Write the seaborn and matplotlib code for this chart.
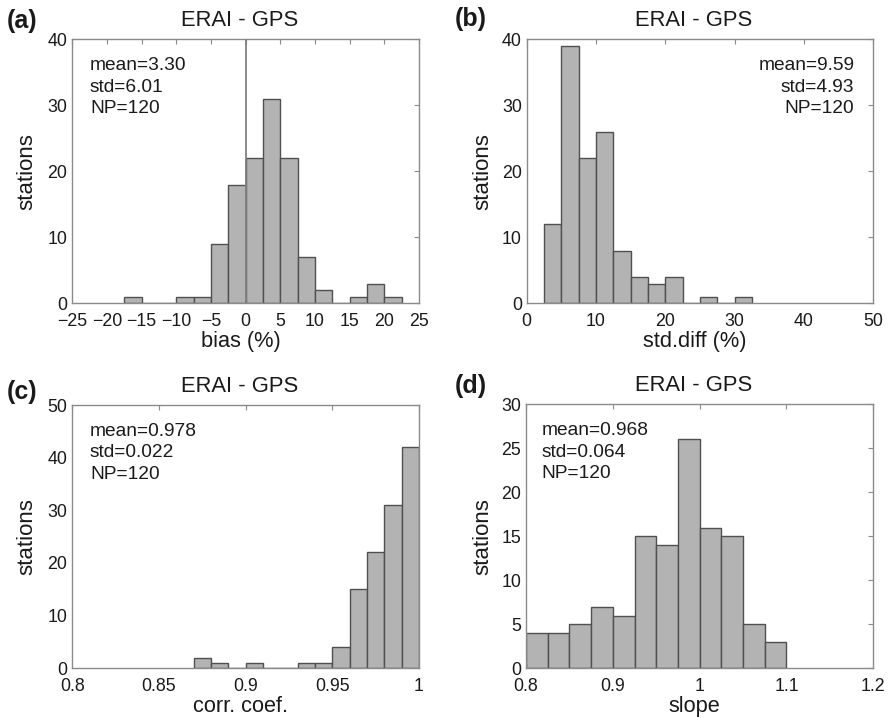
import numpy as np
import pandas as pd
import matplotlib
matplotlib.use("Agg")
import matplotlib.pyplot as plt
from matplotlib.ticker import FuncFormatter
import seaborn as sns

# ---- histogram data (left bin edge, station count) ----
bias_left = [-17.5, -10, -7.5, -5, -2.5, 0, 2.5, 5, 7.5, 10, 15, 17.5, 20]
bias_count = [1, 1, 1, 9, 18, 22, 31, 22, 7, 2, 1, 3, 1]
bias_width = 2.5

stdd_left = [2.5, 5, 7.5, 10, 12.5, 15, 17.5, 20, 25, 30]
stdd_count = [12, 39, 22, 26, 8, 4, 3, 4, 1, 1]
stdd_width = 2.5

corr_left = [0.87, 0.88, 0.90, 0.93, 0.94, 0.95, 0.96, 0.97, 0.98, 0.99]
corr_count = [2, 1, 1, 1, 1, 4, 15, 22, 31, 42]
corr_width = 0.01

slope_left = [0.8, 0.825, 0.85, 0.875, 0.9, 0.925, 0.95, 0.975, 1.0, 1.025, 1.05, 1.075]
slope_count = [4, 4, 5, 7, 6, 15, 14, 26, 16, 15, 5, 3]
slope_width = 0.025

stats_text = {
    "a": ["mean=3.30", "std=6.01", "NP=120"],
    "b": ["mean=9.59", "std=4.93", "NP=120"],
    "c": ["mean=0.978", "std=0.022", "NP=120"],
    "d": ["mean=0.968", "std=0.064", "NP=120"],
}
title = "ERAI - GPS"

sns.set_style("white")
plt.rcParams["font.family"] = ["Liberation Sans", "DejaVu Sans"]
plt.rcParams["axes.unicode_minus"] = True

FACE = "#b3b3b3"
EDGE = "#505050"
FRAME = "#8a8a8a"
TXT = "#1a1a1a"

W, H = 889, 718
fig = plt.figure(figsize=(W / 100, H / 100), dpi=100)


def px_axes(left, top, right, bottom):
    return fig.add_axes([left / W, 1 - bottom / H, (right - left) / W, (bottom - top) / H])


# box = (left, top, right, bottom) in pixels; ylab_x = right edge of "stations";
# tag_x / tag_dy = panel tag left edge and its height above the frame; stats_x = stats anchor
panels = [
    dict(key="a", box=(72.3, 39.3, 419.0, 303.3), ylab_x=37, tag_x=6.5, tag_dy=18.5, stats_x=90,
         left=bias_left, count=bias_count, w=bias_width,
         xlim=(-25, 25), xticks=list(range(-25, 26, 5)), ylim=(0, 40), yticks=[0, 10, 20, 30, 40],
         xlabel="bias (%)", stats_ha="left"),
    dict(key="b", box=(526.7, 39.3, 873.3, 303.3), ylab_x=493, tag_x=455, tag_dy=20, stats_x=854.3,
         left=stdd_left, count=stdd_count, w=stdd_width,
         xlim=(0, 50), xticks=[0, 10, 20, 30, 40, 50], ylim=(0, 40), yticks=[0, 10, 20, 30, 40],
         xlabel="std.diff (%)", stats_ha="right"),
    dict(key="c", box=(72.3, 405.0, 419.0, 668.3), ylab_x=37, tag_x=6.5, tag_dy=12.5, stats_x=90,
         left=corr_left, count=corr_count, w=corr_width,
         xlim=(0.8, 1.0), xticks=[0.8, 0.85, 0.9, 0.95, 1.0], ylim=(0, 50), yticks=[0, 10, 20, 30, 40, 50],
         xlabel="corr. coef.", stats_ha="left"),
    dict(key="d", box=(526.0, 404.3, 873.3, 668.3), ylab_x=493, tag_x=455, tag_dy=18.5, stats_x=541.7,
         left=slope_left, count=slope_count, w=slope_width,
         xlim=(0.8, 1.2), xticks=[0.8, 0.9, 1.0, 1.1, 1.2], ylim=(0, 30), yticks=[0, 5, 10, 15, 20, 25, 30],
         xlabel="slope", stats_ha="left"),
]

fmt = FuncFormatter(lambda v, p: f"{v:g}".replace("-", "\u2212"))

for p in panels:
    l, t, r, b = p["box"]
    axw, axh = r - l, b - t
    ax = px_axes(l, t, r, b)
    w = p["w"]
    df = pd.DataFrame({"value": np.array(p["left"]) + w / 2, "count": p["count"]})
    lo, hi = min(p["left"]), max(p["left"]) + w
    edges = [float(e) for e in np.linspace(lo, hi, int(round((hi - lo) / w)) + 1)]
    sns.histplot(data=df, x="value", weights="count", bins=edges, ax=ax,
                 color=FACE, edgecolor=EDGE, linewidth=1.0, alpha=1.0)
    if p["key"] == "a":
        ax.axvline(0, color="#808080", lw=1.3, zorder=3)

    ax.set_xlim(*p["xlim"])
    ax.set_ylim(*p["ylim"])
    ax.set_xticks(p["xticks"])
    ax.set_yticks(p["yticks"])
    ax.xaxis.set_major_formatter(fmt)
    ax.yaxis.set_major_formatter(fmt)
    ax.tick_params(direction="in", length=3.5, width=0.8, color=FRAME, top=True, right=True,
                   labelsize=12.8, labelcolor=TXT)
    ax.tick_params(axis="x", pad=7)
    ax.tick_params(axis="y", pad=3.5)
    for s in ax.spines.values():
        s.set_visible(True)
        s.set_color(FRAME)
        s.set_linewidth(1.0)

    ax.set_xlabel(p["xlabel"], fontsize=15.7, color=TXT)
    ax.xaxis.set_label_coords(0.5 - 5 / axw, -28 / axh)
    ax.set_ylabel("stations", fontsize=16, color=TXT)
    ax.yaxis.set_label_coords(-(l - p["ylab_x"]) / axw, 0.5)

    ax.text(0.5 - 6.5 / axw, 1 + 13.3 / axh, title, transform=ax.transAxes, ha="center",
            va="baseline", fontsize=15.8, color=TXT)
    ax.text(-(l - p["tag_x"]) / axw, 1 + p["tag_dy"] / axh, f"({p['key']})",
            transform=ax.transAxes, ha="left", va="center", fontsize=18, fontweight="bold", color=TXT)

    # statistics block, one line per baseline
    x_txt = (p["stats_x"] - l) / axw
    for i, line in enumerate(stats_text[p["key"]]):
        ax.text(x_txt, 1 - (30.7 + 21.7 * i) / axh, line, transform=ax.transAxes,
                ha=p["stats_ha"], va="baseline", fontsize=13.8, color=TXT)

fig.savefig("out.png", dpi=100, facecolor="white")
